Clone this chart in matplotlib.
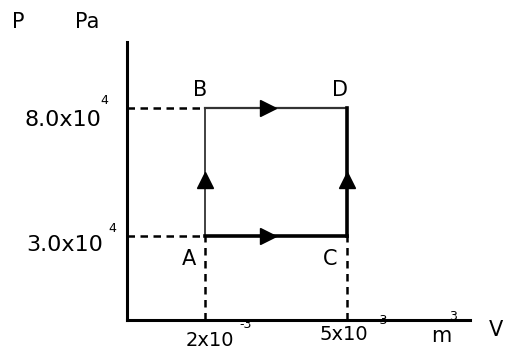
import matplotlib
matplotlib.use("Agg")
import matplotlib.pyplot as plt

# Data (V in 1e-3 m^3, P in 1e4 Pa)
point_names = ["A", "B", "C", "D"]
V_vals = [2, 2, 5, 5]
P_vals = [3, 8, 3, 8]
p_tick_labels = ["3.0x10", "8.0x10"]
v_tick_labels = ["2x10", "5x10"]

W, H = 505, 356
fig = plt.figure(figsize=(W / 100, H / 100), dpi=100)
fig.patch.set_facecolor("white")

ax = fig.add_axes([127 / W, (H - 320) / H, (470 - 127) / W, (320 - 42) / H])
ax.set_xlim(0.35, 7.6)
ax.set_ylim(-0.28, 10.58)
for s in ["top", "right"]:
    ax.spines[s].set_visible(False)
for s in ["left", "bottom"]:
    ax.spines[s].set_linewidth(2.2)
    ax.spines[s].set_color("black")
ax.set_xticks([])
ax.set_yticks([])

pts = dict(zip(point_names, zip(V_vals, P_vals)))
A, B, C, D = pts["A"], pts["B"], pts["C"], pts["D"]
x0, y0 = ax.get_xlim()[0], ax.get_ylim()[0]

# dashed guide lines
dash = dict(color="black", lw=1.8, ls=(0, (3, 2.2)))
ax.plot([x0, B[0]], [B[1], B[1]], **dash)
ax.plot([x0, A[0]], [A[1], A[1]], **dash)
ax.plot([A[0], A[0]], [y0, A[1]], **dash)
ax.plot([C[0], C[0]], [y0, C[1]], **dash)

# process lines
ax.plot([A[0], B[0]], [A[1], B[1]], color="#333333", lw=1.3)
ax.plot([B[0], D[0]], [B[1], D[1]], color="#333333", lw=1.6)
ax.plot([A[0], C[0]], [A[1], C[1]], color="black", lw=2.6)
ax.plot([C[0], D[0]], [C[1], D[1]], color="black", lw=2.6)

# arrows
ax.plot(A[0], A[1] + 0.44 * (B[1] - A[1]), marker="^", color="black", ms=11)
ax.plot(C[0], C[1] + 0.44 * (D[1] - C[1]), marker="^", color="black", ms=11)
ax.plot(B[0] + 0.44 * (D[0] - B[0]), B[1], marker=">", color="black", ms=11)
ax.plot(A[0] + 0.44 * (C[0] - A[0]), A[1], marker=">", color="black", ms=11)

fs = 15
# point labels
ax.text(A[0] - 0.2, A[1] - 0.5, "A", fontsize=fs, ha="right", va="top")
ax.text(C[0] - 0.2, C[1] - 0.5, "C", fontsize=fs, ha="right", va="top")
ax.text(B[0] - 0.1, B[1] + 0.3, "B", fontsize=fs, ha="center", va="bottom")
ax.text(D[0] - 0.15, D[1] + 0.3, "D", fontsize=fs, ha="center", va="bottom")

def ftext(x, y, s, size=fs, **kw):
    fig.text(x / W, 1 - y / H, s, fontsize=size, **kw)

# axis names
ftext(18, 22, "P", ha="center", va="center")
ftext(87, 22, "Pa", ha="center", va="center")

# y tick labels
ftext(101, 120, p_tick_labels[1], size=16, ha="right", va="center")
ftext(104, 100, "4", size=9, ha="center", va="center")
ftext(103, 245, p_tick_labels[0], size=16, ha="right", va="center")
ftext(112, 229, "4", size=9, ha="center", va="center")

# x tick labels
ftext(210, 341, v_tick_labels[0], size=14, ha="center", va="center")
ftext(246, 325, "-3", size=9, ha="center", va="center")
ftext(344, 335, v_tick_labels[1], size=14, ha="center", va="center")
ftext(382, 320, "-3", size=9, ha="center", va="center")
ftext(441, 336, "m", ha="center", va="center")
ftext(453, 316, "3", size=9, ha="center", va="center")
ftext(496, 330, "V", ha="center", va="center")

fig.savefig("out.png", dpi=100, facecolor="white")
